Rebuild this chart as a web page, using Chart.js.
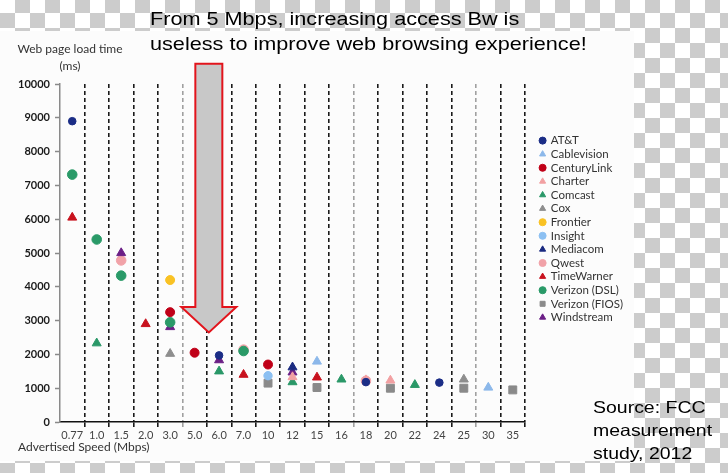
<!DOCTYPE html>
<html>
<head>
<meta charset="utf-8">
<script src="https://cdn.jsdelivr.net/npm/chart.js@4.4.0/dist/chart.umd.min.js"></script>
<style>
  html, body { margin: 0; padding: 0; }
  body {
    width: 728px; height: 473px; position: relative; overflow: hidden;
    background: repeating-conic-gradient(#cccccc 0 25%, #ffffff 0 50%) 0 -2px / 30px 30px;
  }
  #panel { position: absolute; left: 0; top: 31px; width: 634px; height: 430px; background: #fcfcfc; }
  #wrap { position: absolute; left: 0; top: 0; width: 640px; height: 458px; }
  .note { position: absolute; font-family: 'Liberation Sans', Arial, sans-serif; color: #000; transform-origin: 0 0; white-space: nowrap; }
  #headline { left: 150px; top: 7px; font-size: 18.2px; line-height: 25px; transform: scaleX(1.19); }
  #source { left: 593px; top: 396px; font-size: 16.5px; line-height: 23px; transform: scaleX(1.18); }
  .axisTitle { position: absolute; font-family: Lato, sans-serif; font-size: 12px; line-height: 17px; color: #333; white-space: nowrap; }
  #yTitle { left: 10px; top: 40px; width: 120px; text-align: center; }
  #xTitle { left: 18px; top: 438px; }
</style>
</head>
<body>
<div id="panel"></div>
<div id="wrap"><canvas id="chart"></canvas></div>
<div class="note" id="headline">From 5 Mbps, increasing access Bw is<br>useless to improve web browsing experience!</div>
<div class="axisTitle" id="yTitle">Web page load time<br>(ms)</div>
<div class="axisTitle" id="xTitle">Advertised Speed (Mbps)</div>
<div class="note" id="source">Source: FCC<br>measurement<br>study, 2012</div>
<script>
// advertised speed categories (Mbps)
const speeds = ['0.77', '1.0', '1.5', '2.0', '3.0', '5.0', '6.0', '7.0', '10', '12',
  '15', '16', '18', '20', '22', '24', '25', '30', '35'];

// load time in ms, [speed, ms]
const att = [['0.77', 8900], ['6.0', 1970], ['18', 1180], ['24', 1165]];
const cablevision = [['15', 1790], ['30', 1020]];
const centuryLink = [['3.0', 3250], ['5.0', 2050], ['10', 1700]];
const charter = [['12', 1330], ['18', 1240], ['20', 1230]];
const comcast = [['1.0', 2330], ['6.0', 1500], ['12', 1180], ['16', 1260], ['22', 1100]];
const cox = [['3.0', 2020], ['25', 1260]];
const frontier = [['3.0', 4200]];
const insight = [['10', 1370]];
const mediacom = [['12', 1620]];
const qwest = [['1.5', 4780], ['7.0', 2140], ['18', 1220]];
const timeWarner = [['0.77', 6050], ['2.0', 2900], ['7.0', 1400], ['15', 1320]];
const verizonDsl = [['0.77', 7320], ['1.0', 5400], ['1.5', 4330], ['3.0', 2950], ['7.0', 2100]];
const verizonFios = [['10', 1150], ['15', 1020], ['20', 1000], ['25', 1000], ['35', 950]];
const windstream = [['1.5', 5000], ['3.0', 2810], ['6.0', 1830], ['12', 1470]];

const yMax = 10000;
const yStep = 1000;

// big annotation arrow, in data units
const arrowBetween = ['5.0', '6.0'];
const arrowTop = 10600;
const arrowHeadBase = 3400;
const arrowTip = 2650;

const series = [
  { label: 'AT&T', data: att, color: '#1b2d86', style: 'circle', r: 3.8 },
  { label: 'Cablevision', data: cablevision, color: '#8cb8ea', style: 'triangle', r: 5.2 },
  { label: 'CenturyLink', data: centuryLink, color: '#c00018', style: 'circle', r: 4.5 },
  { label: 'Charter', data: charter, color: '#f2a0a2', style: 'triangle', r: 5.2 },
  { label: 'Comcast', data: comcast, color: '#2a9868', style: 'triangle', r: 5.2 },
  { label: 'Cox', data: cox, color: '#8e8e8e', style: 'triangle', r: 5.2 },
  { label: 'Frontier', data: frontier, color: '#f9c224', style: 'circle', r: 4.5 },
  { label: 'Insight', data: insight, color: '#8cc0f2', style: 'circle', r: 4.2 },
  { label: 'Mediacom', data: mediacom, color: '#1a2a80', style: 'triangle', r: 5.2 },
  { label: 'Qwest', data: qwest, color: '#f1a2a8', style: 'circle', r: 4.8, under: true },
  { label: 'TimeWarner', data: timeWarner, color: '#c8121e', style: 'triangle', r: 5.2 },
  { label: 'Verizon (DSL)', data: verizonDsl, color: '#2a9a68', style: 'circle', r: 4.8 },
  { label: 'Verizon (FIOS)', data: verizonFios, color: '#8a8a8a', style: 'rect', r: 5.6 },
  { label: 'Windstream', data: windstream, color: '#6b1f86', style: 'triangle', r: 5.2 }
];

const lightLines = [5, 12, 17];
function gridColor(i) {
  if (i === 0) return 'rgba(0,0,0,0)';
  return lightLines.includes(i) ? '#a0a0a0' : '#1a1a1a';
}

const arrowPlugin = {
  id: 'bigArrow',
  afterDraw(chart) {
    const { ctx, scales: { x, y } } = chart;
    const cx = (x.getPixelForValue(speeds.indexOf(arrowBetween[0])) +
      x.getPixelForValue(speeds.indexOf(arrowBetween[1]))) / 2 + 2;
    const top = y.getPixelForValue(arrowTop);
    const base = y.getPixelForValue(arrowHeadBase);
    const tip = y.getPixelForValue(arrowTip);
    const shaft = 13.5, head = 27.5;
    ctx.save();
    ctx.beginPath();
    ctx.moveTo(cx - shaft, top);
    ctx.lineTo(cx + shaft, top);
    ctx.lineTo(cx + shaft, base);
    ctx.lineTo(cx + head, base);
    ctx.lineTo(cx, tip);
    ctx.lineTo(cx - head, base);
    ctx.lineTo(cx - shaft, base);
    ctx.closePath();
    ctx.fillStyle = '#c8c8c8';
    ctx.fill();
    ctx.lineWidth = 2;
    ctx.strokeStyle = '#e2141c';
    ctx.lineJoin = 'miter';
    ctx.stroke();
    ctx.restore();
  }
};

Chart.defaults.font.family = 'Lato, sans-serif';

new Chart(document.getElementById('chart'), {
  type: 'line',
  data: {
    labels: speeds,
    datasets: series.map(s => ({
      label: s.label,
      data: s.data.map(([x, y]) => ({ x, y })),
      order: s.under ? 1 : 0,
      showLine: false,
      pointStyle: s.style,
      pointRadius: s.r,
      pointHoverRadius: s.r,
      pointBorderWidth: 1,
      backgroundColor: s.color,
      borderColor: s.color
    }))
  },
  options: {
    responsive: true,
    maintainAspectRatio: false,
    animation: false,
    events: [],
    layout: { padding: { top: 0, left: 0, right: 12, bottom: 0 } },
    scales: {
      x: {
        type: 'category',
        offset: true,
        grid: {
          offset: true,
          lineWidth: 1.6,
          color: c => gridColor(c.index),
          tickColor: c => gridColor(c.index),
          tickLength: 5,
          tickWidth: 1.6
        },
        border: { display: true, color: '#111', width: 1.5, dash: [4, 3] },
        ticks: { padding: 2, color: '#444', font: { size: 11 }, maxRotation: 0, autoSkip: false },
        afterFit: s => { s.height = 36; }
      },
      y: {
        type: 'linear',
        min: 0,
        max: yMax,
        grid: { drawOnChartArea: false, tickLength: 5, tickColor: '#8a8a8a', tickWidth: 1.5 },
        border: { display: true, color: '#8a8a8a', width: 1.5 },
        ticks: {
          stepSize: yStep, padding: 5, color: '#1a1a1a', font: { size: 11, weight: 'bold' },
          callback: v => String(v)
        },
        afterFit: s => { s.width = 60; }
      },
      gapTop: {
        type: 'linear', position: 'top',
        ticks: { display: false }, grid: { display: false, drawTicks: false }, border: { display: false },
        afterFit: s => { s.height = 84; }
      },
      gapRight: {
        type: 'linear', position: 'right',
        ticks: { display: false }, grid: { display: false, drawTicks: false }, border: { display: false },
        afterFit: s => { s.width = 13; }
      }
    },
    plugins: {
      legend: {
        position: 'right',
        maxWidth: 90,
        labels: {
          usePointStyle: true,
          boxWidth: 5,
          boxHeight: 5,
          padding: 2.1,
          color: '#333',
          font: { size: 11.5 },
          sort: (a, b) => a.datasetIndex - b.datasetIndex
        }
      },
      tooltip: { enabled: false }
    }
  },
  plugins: [arrowPlugin]
});
</script>
</body>
</html>
